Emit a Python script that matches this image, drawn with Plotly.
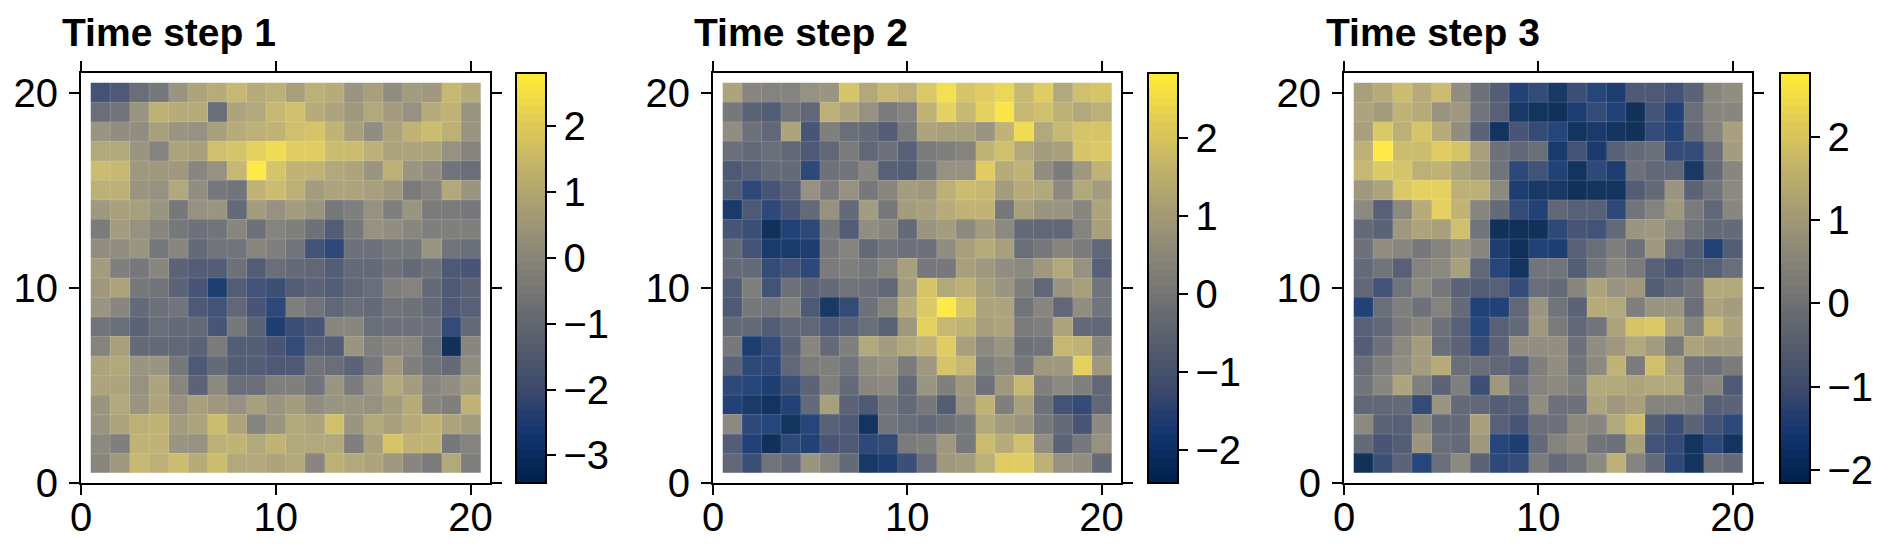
import plotly.graph_objects as go
from plotly.colors import sample_colorscale, get_colorscale

W, H = 1892, 549
cells_x = list(range(1, 21))
cells_y = list(range(20, 0, -1))
tick_vals = [0, 10, 20]
titles = ["Time step 1", "Time step 2", "Time step 3"]
z_limits = [(-3.42, 2.81), (-2.42, 2.83), (-2.16, 2.77)]
bar_ticks = [[-3, -2, -1, 0, 1, 2], [-2, -1, 0, 1, 2], [-2, -1, 0, 1, 2]]

step1 = [
[-2.1,-1.9,-1.1,-0.8,0.3,0.7,1.0,1.4,1.0,1.1,0.6,1.1,1.0,0.3,0.6,0.0,0.5,0.4,1.4,1.0],
[-1.1,-0.9,0.2,1.1,1.0,1.0,-1.1,0.7,0.9,1.4,1.6,1.0,0.8,0.4,0.9,0.5,0.1,1.0,1.2,0.3],
[0.3,0.0,0.0,0.6,0.2,0.1,0.6,1.0,1.1,1.3,1.6,1.7,1.2,0.6,0.0,0.8,1.2,1.5,1.1,0.3],
[0.9,0.9,0.3,-0.4,0.7,0.6,1.6,1.8,2.1,2.4,2.0,2.0,1.5,1.5,1.1,0.8,0.8,0.8,0.1,-0.4],
[1.5,1.4,0.4,0.4,0.4,-0.2,0.1,1.4,2.75,1.7,1.2,1.3,0.9,0.7,0.2,1.1,0.2,0.0,-0.9,-1.1],
[1.1,1.1,0.2,0.1,0.9,0.0,-0.8,-0.9,1.2,1.5,1.1,0.5,0.8,0.8,0.6,0.4,-0.6,-0.4,0.9,0.2],
[0.4,0.6,0.6,0.3,-0.8,0.1,0.3,-1.3,0.5,0.1,0.5,0.3,-0.8,-0.5,0.1,-0.5,0.3,-0.6,-0.6,-0.8],
[-0.6,0.5,0.1,-0.3,-0.7,-1.0,-0.9,-0.3,-1.0,-0.4,-0.5,-1.0,-1.7,-0.8,0.1,0.0,-0.3,-0.5,-0.5,-0.5],
[0.0,0.0,0.2,-0.7,-0.3,-1.2,-0.9,-0.9,-0.2,-0.5,-0.9,-2.1,-2.5,-1.0,-1.0,-0.7,-0.7,0.2,-0.9,-1.1],
[0.5,-0.5,-0.8,-0.3,-1.5,-1.8,-1.7,-1.0,-1.8,-1.1,-1.2,-1.4,-1.7,-1.2,-1.2,-1.0,-1.3,-1.0,-1.9,-2.0],
[0.4,0.8,-0.8,-0.9,-1.5,-2.0,-2.8,-1.8,-2.1,-2.2,-1.7,-1.5,-1.8,-1.4,-1.1,-0.5,-0.4,-1.2,-1.9,-1.5],
[0.3,-0.3,-1.2,-1.0,-0.9,-1.9,-2.1,-1.4,-2.0,-2.5,-0.5,-0.9,-1.4,-1.1,-1.2,-0.9,-1.0,-1.3,-1.9,-1.6],
[-0.9,-1.1,-1.5,-1.1,-1.2,-1.2,-2.0,-0.8,-1.5,-2.8,-2.2,-2.0,-0.3,-0.2,-1.1,-1.0,-1.0,-1.0,-2.4,-1.2],
[-0.4,0.6,-1.2,-1.2,-1.4,-1.5,-0.6,-1.8,-1.7,-2.0,-2.3,-1.6,-1.8,0.3,-0.5,-0.3,-0.3,-1.1,-3.4,-0.3],
[0.7,0.9,0.2,0.3,-0.8,-1.9,-1.3,-1.8,-1.7,-1.9,-1.9,-0.9,-1.1,-1.5,-0.7,0.4,-0.5,-0.9,-1.3,0.0],
[0.7,0.8,0.1,0.7,-0.3,-1.5,-0.1,-1.1,-1.1,-0.5,-0.5,-0.9,0.3,-0.6,0.2,0.9,0.5,-0.2,0.0,0.5],
[0.2,0.9,0.3,0.8,0.1,0.6,0.4,0.1,0.6,0.3,0.5,0.0,0.3,0.2,0.1,0.5,1.0,-0.2,-0.5,1.3],
[0.2,0.8,1.1,1.3,0.5,0.8,1.5,0.8,-0.4,0.3,0.9,0.7,1.6,0.2,0.9,0.6,1.0,1.2,0.7,0.5],
[-0.1,-0.5,1.2,1.2,0.3,0.1,1.1,1.3,0.9,1.2,0.9,0.9,0.9,-0.5,0.6,1.7,1.2,1.3,-0.8,-0.4],
[-0.2,0.4,1.4,1.1,1.5,1.0,1.5,0.9,0.9,0.7,0.9,-0.3,1.1,0.9,0.8,0.4,-0.2,-0.6,0.9,-0.5],
]
step2 = [
[1.1,0.3,0.2,0.2,0.6,0.7,1.9,1.2,1.6,1.4,2.0,2.6,1.9,2.1,2.4,1.6,2.1,1.2,1.8,1.9],
[-0.2,-0.8,-1.0,-0.3,-0.7,1.4,1.1,0.6,-0.1,0.2,1.5,2.3,1.6,2.2,2.7,1.6,1.8,1.4,1.2,1.4],
[0.5,-0.4,-0.7,1.1,-1.2,0.1,-0.5,-0.6,-1.0,-0.1,1.1,1.0,1.0,0.7,1.5,2.5,1.2,1.6,1.9,1.9],
[-0.5,-0.6,-0.5,-0.7,-1.1,-0.7,-0.1,-0.7,-0.4,-0.9,-0.1,0.1,0.2,1.5,1.8,1.2,0.9,1.0,1.9,2.0],
[-1.1,-0.9,-0.6,-0.6,-1.6,-0.4,-0.3,0.3,-0.9,-1.0,-0.2,0.6,0.6,2.1,1.3,1.5,0.5,-0.1,0.8,1.5],
[-1.0,-1.6,-1.2,-0.9,0.6,-0.1,0.6,-0.2,0.3,0.9,0.8,1.4,1.7,1.6,0.9,1.3,1.2,0.4,1.2,0.9],
[-2.1,-1.1,-1.6,-1.2,-0.6,0.6,-0.6,0.9,-0.2,0.9,1.0,1.3,1.5,1.5,-0.2,1.0,0.7,0.7,0.3,1.1],
[-1.2,-1.4,-2.4,-1.8,-1.6,-0.2,-1.0,0.5,0.3,-0.6,0.7,0.9,0.4,0.9,0.4,-0.6,-0.7,-0.7,0.2,1.0],
[-0.6,-1.3,-2.1,-2.1,-1.9,-0.2,0.2,-0.6,-0.3,-0.4,-0.4,0.5,1.0,1.3,1.0,-0.5,-0.2,0.2,-0.1,-0.7],
[-0.6,-0.6,-1.5,-1.3,-1.6,-0.1,0.0,-0.2,0.2,1.0,-0.2,-0.2,1.0,0.8,0.5,0.4,0.8,1.2,0.6,-0.9],
[-1.0,0.0,-1.3,-0.4,-0.8,-0.6,-0.3,-0.4,-0.7,0.9,1.9,1.2,1.4,1.0,0.7,0.1,-0.7,0.7,1.0,-0.3],
[-1.1,-0.2,-0.3,0.1,-1.1,-2.2,-1.5,-0.4,0.2,1.3,2.0,2.8,1.9,1.1,1.1,-0.3,0.3,-0.7,0.5,-0.3],
[-0.6,-0.6,-1.0,-0.7,-0.7,-1.1,-0.9,-0.5,-0.8,0.8,2.2,1.6,1.5,1.0,1.1,-0.1,0.0,1.1,-0.6,-0.7],
[-0.2,-1.9,-1.5,-0.8,0.3,-0.6,0.0,1.2,0.9,1.2,1.5,2.1,1.0,0.4,0.7,-0.4,-0.3,1.6,1.5,0.3],
[-0.8,-1.6,-1.6,-0.7,-0.1,0.1,-0.3,0.5,0.6,-0.1,0.8,1.9,1.6,0.1,0.4,-0.2,0.8,0.8,2.2,0.8],
[-1.6,-1.7,-2.0,-1.4,-0.8,0.0,-0.6,0.3,0.4,-0.6,0.7,0.0,0.8,-0.4,0.8,1.6,0.1,0.4,0.1,-0.7],
[-1.8,-2.1,-2.3,-1.8,-0.6,1.0,-0.8,-1.1,-0.3,-0.6,-0.2,-1.0,0.6,1.5,0.1,1.0,-0.4,-1.3,-1.5,-0.7],
[0.4,-1.6,-1.7,-2.3,-1.7,-0.9,-1.1,-2.3,-0.3,-0.5,-0.6,-0.4,-0.2,1.2,0.9,0.7,-0.2,-0.6,-1.2,0.4],
[-1.0,-1.8,-2.4,-1.6,-1.8,-1.2,-1.1,-1.6,-1.5,-0.1,0.1,0.8,-0.2,1.7,1.3,1.8,0.5,-0.8,-0.2,0.6],
[-0.7,-1.4,-0.3,-0.6,0.7,0.2,-0.6,-2.2,-1.9,-1.4,-0.5,0.8,0.9,1.4,2.1,2.1,1.4,0.6,0.5,-0.6],
]
step3 = [
[1.0,1.3,1.7,1.3,1.7,0.6,-0.2,-0.8,-1.6,-1.3,-1.9,-1.2,-1.5,-1.7,-0.9,-0.9,-1.1,-0.6,0.4,0.6],
[1.1,0.9,1.5,1.3,0.7,0.8,-0.1,-0.7,-1.9,-2.0,-2.15,-1.7,-1.3,-1.6,-2.1,-1.1,-1.6,-0.3,0.4,0.4],
[1.0,2.0,1.4,1.9,1.3,0.6,-0.6,-2.0,-1.0,-1.3,-1.5,-2.0,-1.8,-2.0,-2.15,-1.3,-1.6,-0.4,0.3,1.0],
[1.4,2.75,1.7,1.7,2.1,1.9,1.0,-0.2,-0.5,-0.3,-1.8,-1.1,-1.8,-0.7,-0.4,-0.3,-1.3,-1.3,-0.3,0.9],
[1.6,2.0,1.9,1.4,1.5,1.1,0.8,-0.1,-1.4,-1.1,-1.6,-2.0,-1.4,-1.7,-0.2,-0.5,-0.5,-1.9,-0.4,0.4],
[0.8,1.1,2.0,2.2,2.2,1.4,1.4,0.5,-1.7,-1.9,-1.9,-2.15,-2.0,-2.0,-0.8,-0.4,0.7,-0.6,-0.1,0.5],
[0.5,-0.7,0.5,1.3,2.2,1.5,0.4,-0.4,-1.3,-1.6,-0.5,-0.7,-0.7,-1.4,-0.1,0.3,0.8,0.1,-0.5,0.4],
[-0.4,-0.6,0.8,1.1,1.0,1.8,-0.1,-2.15,-2.15,-2.1,-1.4,-1.0,-1.1,-0.4,0.7,0.8,0.5,-0.1,-0.4,-0.4],
[-0.2,0.6,0.4,0.0,0.3,0.7,0.4,-1.7,-2.1,-1.6,-1.7,-0.7,-0.3,0.2,-0.2,0.8,-0.3,-0.8,-1.6,-0.8],
[-0.4,-0.1,-0.7,0.3,0.5,1.0,-0.5,-1.5,-2.0,-0.1,-0.1,-0.8,-0.1,0.4,0.1,-0.7,-1.0,-0.7,-0.7,-0.3],
[-0.5,-1.1,-0.1,0.5,0.0,-0.6,-0.8,-0.7,-1.3,-0.3,-0.4,0.4,1.1,0.7,0.8,-0.8,-0.4,-0.1,1.2,1.2],
[-1.6,-0.3,0.2,-0.2,0.3,-0.4,-1.6,-1.6,-0.5,0.7,-0.1,-0.6,1.3,1.2,0.2,0.7,0.7,-0.3,1.1,0.9],
[-0.7,-0.5,0.1,0.4,-0.2,-0.7,-1.5,-0.7,-0.4,0.8,0.1,-0.5,-0.1,1.1,1.9,2.0,1.1,0.3,1.6,1.1],
[-0.8,-0.2,0.5,0.9,-0.3,-0.6,-1.3,-0.6,0.6,0.6,0.6,-0.2,0.6,0.8,1.2,0.9,0.1,1.1,0.9,0.9],
[-0.3,0.2,0.6,0.9,1.3,-0.3,-0.3,-0.5,-0.7,0.2,0.6,-0.1,0.5,1.5,0.1,1.8,1.0,-0.1,-0.2,0.1],
[-0.1,0.4,1.1,0.2,-0.6,0.2,-1.2,0.8,-0.2,0.3,0.5,0.2,1.2,1.2,1.1,1.2,1.2,0.1,0.4,-0.9],
[-0.5,-0.5,-0.4,-1.3,0.7,-0.4,-0.5,-0.8,-0.7,0.6,-0.2,-0.2,1.1,0.8,1.0,0.3,0.3,0.2,-0.7,-0.6],
[0.5,-0.6,-0.7,0.4,-0.4,-0.4,1.0,-0.7,-1.0,-0.3,-0.2,0.5,0.4,1.2,1.7,-0.8,-1.2,-0.6,-1.1,-1.4],
[-0.4,-1.0,-0.8,0.7,-0.3,-0.4,0.8,-1.5,-1.7,-0.4,0.3,0.6,-0.1,-0.2,1.0,-1.1,-1.3,-2.0,-1.4,-2.0],
[-2.1,-1.2,-0.6,-1.5,-0.3,0.5,-0.6,-1.4,-1.3,0.1,-0.4,-0.1,0.5,1.4,0.3,-0.4,-1.4,-2.0,-0.2,-0.4],
]
panels = [step1, step2, step3]

# pixel layout of each panel
axes_left = [81, 713, 1344]
axes_right = [490, 1121, 1752]
bar_left = [516, 1148, 1780]
title_left = [60, 692, 1324]
AX_TOP, AX_BOTTOM = 73, 483
BAR_W = 30
FONT = "Liberation Sans"
TICK_SIZE = 40
TITLE_SIZE = 39
CELL_LINE = "rgba(255,255,255,0.15)"

# stepped cividis, like a contour-levelled colour bar
N_LEVELS = 50
samples = sample_colorscale(get_colorscale("Cividis"), [i / (N_LEVELS - 1) for i in range(N_LEVELS)])
stepped = []
for i, c in enumerate(samples):
    stepped.append([i / N_LEVELS, c])
    stepped.append([(i + 1) / N_LEVELS, c])

# cell boundaries come from the cell centres
inner_edges = [c + 0.5 for c in cells_x[:-1]]
outer = [cells_x[0] - 0.5, cells_x[-1] + 0.5]
line_x, line_y = [], []
for e in inner_edges:
    line_x += [e, e, None, outer[0], outer[1], None]
    line_y += [outer[0], outer[1], None, e, e, None]

fig = go.Figure()
layout = {}
annotations = []
for i in range(3):
    n = "" if i == 0 else str(i + 1)
    zmin, zmax = z_limits[i]
    fig.add_trace(go.Heatmap(
        x=cells_x, y=cells_y, z=panels[i], zmin=zmin, zmax=zmax, opacity=0.93,
        colorscale=stepped, xaxis=f"x{n}", yaxis=f"y{n}",
        colorbar=dict(
            x=bar_left[i] / W, xanchor="left", xpad=0, ypad=0,
            y=1 - AX_BOTTOM / H, yanchor="bottom",
            len=(AX_BOTTOM - AX_TOP) / H, lenmode="fraction",
            thickness=BAR_W, thicknessmode="pixels",
            outlinewidth=2, outlinecolor="black",
            tickmode="array", tickvals=bar_ticks[i], ticks="outside", ticklen=9, tickwidth=2,
            tickcolor="black", tickfont=dict(family=FONT, size=TICK_SIZE, color="black"),
        ),
    ))
    fig.add_trace(go.Scatter(
        x=line_x, y=line_y, mode="lines", line=dict(color=CELL_LINE, width=1),
        hoverinfo="skip", showlegend=False, xaxis=f"x{n}", yaxis=f"y{n}"))
    common = dict(range=[0, 21], tickmode="array", tickvals=tick_vals, ticks="outside",
                  ticklen=10, tickwidth=2, tickcolor="black", showline=True, linecolor="black",
                  linewidth=2, mirror="ticks", showgrid=False, zeroline=False,
                  tickfont=dict(family=FONT, size=TICK_SIZE, color="black"))
    layout[f"xaxis{n}"] = dict(domain=[axes_left[i] / W, axes_right[i] / W],
                               anchor=f"y{n}", ticklabelstandoff=-12, **common)
    layout[f"yaxis{n}"] = dict(domain=[1 - AX_BOTTOM / H, 1 - AX_TOP / H],
                               anchor=f"x{n}", ticklabelstandoff=3, **common)
    annotations.append(dict(
        text=f"<b>{titles[i]}</b>", x=title_left[i] / W, y=1 - 56 / H, xref="paper", yref="paper",
        xanchor="left", yanchor="bottom", showarrow=False,
        font=dict(family=FONT, size=TITLE_SIZE, color="black")))

fig.update_layout(width=W, height=H, autosize=False,
                  margin=dict(l=0, r=0, t=0, b=0, autoexpand=False),
                  paper_bgcolor="white", plot_bgcolor="white", annotations=annotations, **layout)
fig.write_html("out.html", config=dict(displayModeBar=False),
               post_script="document.body.style.margin='0';")
